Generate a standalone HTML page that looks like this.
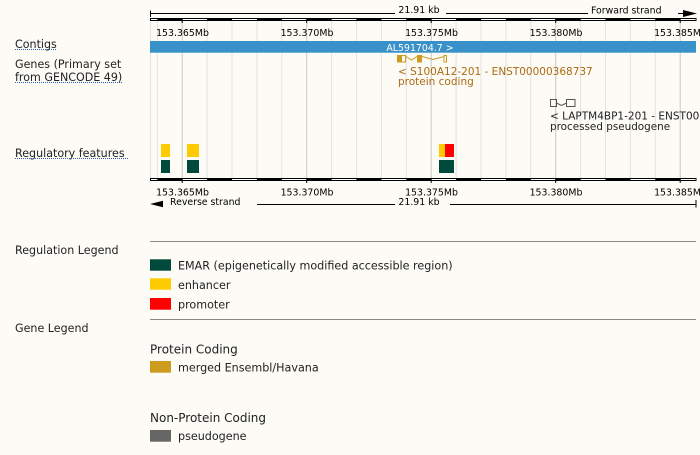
<!DOCTYPE html>
<html><head><meta charset="utf-8"><style>
html,body{margin:0;padding:0;background:#fcfbf6;}
svg{display:block;}
text{font-family:"DejaVu Sans","Liberation Sans",sans-serif;}
</style></head><body>
<svg width="700" height="455" viewBox="0 0 700 455" xmlns="http://www.w3.org/2000/svg">
<rect x="0" y="0" width="700" height="455" fill="#fcfbf6"/>
<defs>
<g id="bar">
<rect x="150.5" y="0.5" width="545.5" height="2" fill="#fff" stroke="#000" stroke-width="1"/>
<g fill="#000">
<rect x="157.3" y="0" width="24.9" height="3"/>
<rect x="207.1" y="0" width="24.9" height="3"/>
<rect x="256.9" y="0" width="24.9" height="3"/>
<rect x="306.7" y="0" width="24.9" height="3"/>
<rect x="356.5" y="0" width="24.9" height="3"/>
<rect x="406.3" y="0" width="24.9" height="3"/>
<rect x="456.1" y="0" width="24.9" height="3"/>
<rect x="505.9" y="0" width="24.9" height="3"/>
<rect x="555.7" y="0" width="24.9" height="3"/>
<rect x="605.5" y="0" width="24.9" height="3"/>
<rect x="655.3" y="0" width="24.9" height="3"/>
</g>
<g stroke="#000" stroke-width="1">
<line x1="182.2" y1="0" x2="182.2" y2="5"/>
<line x1="306.7" y1="0" x2="306.7" y2="5"/>
<line x1="431.2" y1="0" x2="431.2" y2="5"/>
<line x1="555.7" y1="0" x2="555.7" y2="5"/>
<line x1="680.2" y1="0" x2="680.2" y2="5"/>
</g>
</g>
</defs>

<!-- gridlines -->
<g stroke="#e3e3e3" stroke-width="1">
<line x1="150.5" y1="21" x2="150.5" y2="178"/>
<line x1="157.3" y1="21" x2="157.3" y2="178"/>
<line x1="207.1" y1="21" x2="207.1" y2="178"/>
<line x1="232.0" y1="21" x2="232.0" y2="178"/>
<line x1="256.9" y1="21" x2="256.9" y2="178"/>
<line x1="281.8" y1="21" x2="281.8" y2="178"/>
<line x1="331.6" y1="21" x2="331.6" y2="178"/>
<line x1="356.5" y1="21" x2="356.5" y2="178"/>
<line x1="381.4" y1="21" x2="381.4" y2="178"/>
<line x1="406.3" y1="21" x2="406.3" y2="178"/>
<line x1="456.1" y1="21" x2="456.1" y2="178"/>
<line x1="481.0" y1="21" x2="481.0" y2="178"/>
<line x1="505.9" y1="21" x2="505.9" y2="178"/>
<line x1="530.8" y1="21" x2="530.8" y2="178"/>
<line x1="580.6" y1="21" x2="580.6" y2="178"/>
<line x1="605.5" y1="21" x2="605.5" y2="178"/>
<line x1="630.4" y1="21" x2="630.4" y2="178"/>
<line x1="655.3" y1="21" x2="655.3" y2="178"/>
</g>
<g stroke="#c9c9c9" stroke-width="1">
<line x1="182.2" y1="21" x2="182.2" y2="178"/>
<line x1="306.7" y1="21" x2="306.7" y2="178"/>
<line x1="431.2" y1="21" x2="431.2" y2="178"/>
<line x1="555.7" y1="21" x2="555.7" y2="178"/>
<line x1="680.2" y1="21" x2="680.2" y2="178"/>
</g>

<!-- top ruler -->
<g stroke="#000" stroke-width="1">
<line x1="150.5" y1="10.5" x2="150.5" y2="17"/>
<line x1="150" y1="13.5" x2="395" y2="13.5"/>
<line x1="446" y1="13.5" x2="588" y2="13.5"/>
<line x1="678" y1="13.5" x2="686" y2="13.5"/>
</g>
<polygon points="683,10 697,13.5 683,17" fill="#000"/>
<text x="419" y="13" font-size="9.4" text-anchor="middle" fill="#000">21.91 kb</text>
<text x="591" y="13.3" font-size="9.35" fill="#000">Forward strand</text>
<use href="#bar" transform="translate(0,18)"/>
<g font-size="9.4" fill="#000" text-anchor="middle">
<text x="182.5" y="36">153.365Mb</text>
<text x="307" y="36">153.370Mb</text>
<text x="431.5" y="36">153.375Mb</text>
<text x="556" y="36">153.380Mb</text>
<text x="680.5" y="36">153.385Mb</text>
</g>

<!-- contig -->
<rect x="150" y="41" width="546" height="11.7" fill="#3891c8"/>
<text x="420" y="51" font-size="9.4" text-anchor="middle" fill="#fff">AL591704.7 &gt;</text>

<!-- S100A12 gene -->
<g stroke="#cd9b1d" stroke-width="1" fill="none">
<rect x="397.5" y="55.5" width="8" height="6.5"/>
<rect x="444" y="55.5" width="2.5" height="6.5"/>
<polyline points="406,56.5 411.5,60 417,56.5"/>
<polyline points="422,56.5 433,59.5 444,56.5"/>
</g>
<rect x="397" y="55" width="5" height="7.5" fill="#cd9b1d"/>
<rect x="417" y="55" width="5" height="7.5" fill="#cd9b1d"/>
<text x="398" y="75" font-size="10.5" fill="#ad6a12">&lt; S100A12-201 - ENST00000368737</text>
<text x="398" y="85" font-size="10.5" fill="#ad6a12">protein coding</text>

<!-- LAPTM4BP1 -->
<g stroke="#555" stroke-width="1" fill="none">
<rect x="550.5" y="99.5" width="6" height="7"/>
<rect x="566.5" y="99.5" width="8.5" height="7"/>
<polyline points="556.5,103 561.5,105.5 566.5,103"/>
</g>
<text x="550" y="119.3" font-size="10.5" fill="#222">&lt; LAPTM4BP1-201 - ENST00000</text>
<text x="550" y="130" font-size="10.4" fill="#222">processed pseudogene</text>

<!-- regulatory features -->
<rect x="161" y="144" width="9" height="13" fill="#fecb00"/>
<rect x="161" y="160" width="9" height="13" fill="#004a3d"/>
<rect x="187" y="144" width="12" height="13" fill="#fecb00"/>
<rect x="187" y="160" width="12" height="13" fill="#004a3d"/>
<rect x="439" y="144" width="6" height="13" fill="#fecb00"/>
<rect x="445" y="144" width="9" height="13" fill="#ff0000"/>
<rect x="439" y="160" width="15" height="13" fill="#004a3d"/>

<!-- bottom ruler -->
<use href="#bar" transform="translate(0,178)"/>
<g font-size="9.4" fill="#000" text-anchor="middle">
<text x="182.5" y="195.5">153.365Mb</text>
<text x="307" y="195.5">153.370Mb</text>
<text x="431.5" y="195.5">153.375Mb</text>
<text x="556" y="195.5">153.380Mb</text>
<text x="680.5" y="195.5">153.385Mb</text>
</g>
<polygon points="150,204 163,200.8 163,207.2" fill="#000"/>
<text x="170" y="205" font-size="9.35" fill="#000">Reverse strand</text>
<g stroke="#000" stroke-width="1">
<line x1="257" y1="204.5" x2="395" y2="204.5"/>
<line x1="450" y1="204.5" x2="696" y2="204.5"/>
<line x1="696" y1="200" x2="696" y2="207.5"/>
</g>
<text x="419" y="205" font-size="9.4" text-anchor="middle" fill="#000">21.91 kb</text>

<!-- left labels -->
<g font-size="11.1" fill="#222">
<text x="15" y="48">Contigs</text>
<text x="15" y="68">Genes (Primary set</text>
<text x="15" y="81">from GENCODE 49)</text>
<text x="15" y="157">Regulatory features</text>
<text x="15" y="254">Regulation Legend</text>
<text x="15" y="332">Gene Legend</text>
</g>
<g stroke="#2f5fb3" stroke-width="1" stroke-dasharray="1,1">
<line x1="15" y1="49.5" x2="57" y2="49.5"/>
<line x1="15" y1="82.5" x2="122" y2="82.5"/>
<line x1="15" y1="158.5" x2="128" y2="158.5"/>
</g>

<!-- legend -->
<g stroke="#888" stroke-width="1">
<line x1="150" y1="241.5" x2="696" y2="241.5"/>
<line x1="150" y1="319.5" x2="696" y2="319.5"/>
</g>
<rect x="150" y="259.3" width="21" height="11.4" fill="#004a3d"/>
<rect x="150" y="278.3" width="21" height="11.4" fill="#fecb00"/>
<rect x="150" y="298" width="21" height="11.7" fill="#ff0000"/>
<g font-size="11.15" fill="#222">
<text x="178" y="269.5">EMAR (epigenetically modified accessible region)</text>
<text x="178" y="289">enhancer</text>
<text x="178" y="308.7">promoter</text>
</g>
<text x="150" y="353.3" font-size="12" fill="#222">Protein Coding</text>
<rect x="150" y="361" width="21" height="11.7" fill="#cd9b1d"/>
<text x="178" y="371.5" font-size="11.15" fill="#222">merged Ensembl/Havana</text>
<text x="150" y="422" font-size="12" fill="#222">Non-Protein Coding</text>
<rect x="150" y="430" width="21" height="11.7" fill="#666666"/>
<text x="178" y="440" font-size="11.15" fill="#222">pseudogene</text>
</svg>
</body></html>
